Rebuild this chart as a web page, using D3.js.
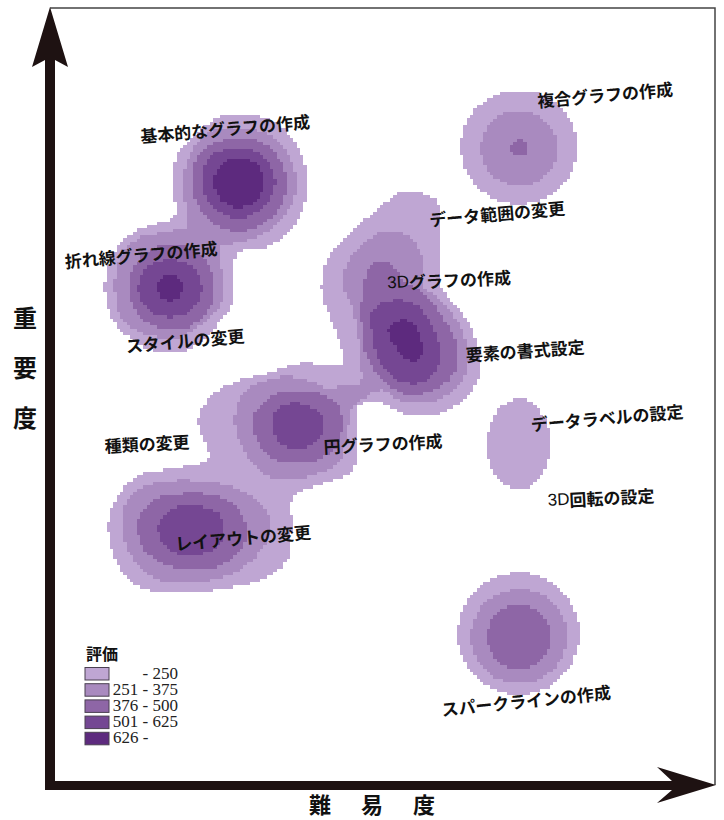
<!doctype html>
<html>
<head>
<meta charset="utf-8"/>
<title>難易度と重要度</title>
<script src="https://d3js.org/d3.v7.min.js"></script>
<style>
html,body{margin:0;padding:0;background:#fff;}
svg{display:block;}
.jp{font-family:"Noto Sans CJK JP",sans-serif;font-weight:700;fill:#111;}
.num{font-family:"Liberation Serif",serif;font-size:17px;fill:#222;}
.narrow{font-family:"Liberation Sans Narrow","Liberation Sans",sans-serif;font-weight:400;}
</style>
</head>
<body>
<script>
// chart values: x = 難易度, y = 重要度
var legendTitle = "評価";
var legendLabels = ["- 250", "251 - 375", "376 - 500", "501 - 625", "626 -"];
var bandColors = ["#bfa6d3", "#a98abf", "#8e66a6", "#744793", "#5d2a7e"];

var topicNames = ["基本的なグラフの作成", "複合グラフの作成", "データ範囲の変更", "折れ線グラフの作成", "3Dグラフの作成",
  "スタイルの変更", "要素の書式設定", "データラベルの設定", "種類の変更", "円グラフの作成",
  "3D回転の設定", "レイアウトの変更", "スパークラインの作成"];
var topicX = [175, 555, 447, 91, 399, 135, 475, 557, 97, 333, 551, 193, 476];
var topicY = [657, 691, 572, 531, 506, 445, 435, 368, 342, 342, 288, 248, 85];
var topicTilt = [-5, -5, -5, -5, -3, -5, -4, -5, -3, -3, -3, -5, -6];

// band outlines: [band, [[x, y], ...]]
var bandOutlines = [
  [0, [[170,668],[190,669],[212,668],[232,658],[248,637],[256,615],[257,597],[252,573],[240,555],[220,540],[190,533],[183,523],[183,500],[183,482],[173,468],[160,452],[137,435],[110,433],[83,445],[63,465],[55,495],[60,525],[77,548],[100,560],[123,567],[125,585],[122,602],[128,632],[147,652]]],
  [1, [[190,658],[225,647],[247,605],[240,578],[220,555],[190,543],[170,538],[173,508],[172,485],[153,462],[127,448],[100,450],[73,465],[65,495],[70,528],[90,548],[113,553],[137,560],[135,582],[135,615],[147,642],[163,655]]],
  [2, [[190,648],[220,638],[237,605],[230,578],[207,558],[180,555],[153,572],[142,602],[150,632],[167,643]]],
  [3, [[190,638],[212,630],[225,605],[217,582],[190,567],[163,578],[152,602],[160,628]]],
  [0, [[350,593],[370,593],[388,582],[390,545],[390,502],[400,485],[417,465],[428,438],[430,412],[417,388],[393,373],[360,370],[327,383],[308,378],[308,348],[303,315],[283,305],[250,293],[242,285],[242,258],[237,225],[217,208],[177,197],[137,193],[100,195],[73,212],[58,258],[67,288],[90,310],[127,317],[157,325],[158,335],[148,362],[160,388],[183,402],[220,413],[253,422],[293,420],[293,428],[287,452],[272,492],[277,525],[300,552],[323,572],[343,588]]],
  [1, [[340,555],[363,545],[373,525],[372,502],[390,485],[407,465],[417,438],[417,415],[400,392],[373,382],[350,385],[332,395],[315,388],[302,377],[297,350],[290,325],[263,310],[223,307],[202,322],[185,360],[193,392],[227,408],[250,407],[277,398],[295,400],[310,402],[310,428],[303,475],[292,502],[297,522],[317,545]]],
  [2, [[333,525],[343,518],[357,502],[373,492],[393,468],[407,438],[405,415],[390,398],[360,390],[337,402],[317,428],[312,458],[312,488],[318,515]]],
  [3, [[343,485],[363,482],[377,468],[390,435],[388,418],[373,403],[353,403],[333,418],[323,448],[323,475]]],
  [4, [[355,465],[367,457],[372,440],[370,427],[360,425],[348,435],[339,448],[340,460]]],
  [2, [[247,395],[283,385],[293,362],[283,335],[257,323],[227,325],[207,345],[203,368],[220,388]]],
  [3, [[247,382],[273,368],[273,352],[253,337],[233,340],[222,358],[227,375]]],
  [1, [[140,305],[110,303],[83,292],[72,265],[78,235],[103,208],[143,203],[183,212],[213,238],[220,265],[207,285],[177,300]]],
  [2, [[140,292],[103,285],[87,262],[95,235],[123,218],[163,217],[187,232],[197,252],[187,278],[163,290]]],
  [3, [[140,280],[117,273],[108,255],[120,235],[143,230],[167,238],[175,258],[167,273]]]
];
// round spots: [band, centre x, centre y, radius x, radius y]
var bandSpots = [
  [4, 189, 603, 25, 25],
  [2, 122, 498, 43, 43], [3, 120, 497, 32, 29], [4, 120, 497, 12.5, 13],
  [0, 469, 638, 58, 57], [1, 469, 637, 38, 38], [2, 469, 637, 8.5, 8.5],
  [0, 468.5, 341, 31.5, 45],
  [0, 468.5, 151.5, 61, 61], [1, 469, 149, 48, 47], [2, 469, 148.5, 32, 32]
];

var width = 724, height = 820;
var svg = d3.select("body").append("svg").attr("width", width).attr("height", height);

var x = d3.scaleLinear().domain([0, 665]).range([50, 715]);
var y = d3.scaleLinear().domain([0, 777]).range([785, 8]);

var defs = svg.append("defs");
defs.append("filter").attr("id", "soft").append("feGaussianBlur").attr("stdDeviation", 0.45);

// raster cells, same coarse steps as the source map
var cell = 10 / 3;
var outlinePath = d3.line().x(function(d){ return x(d[0]); }).y(function(d){ return y(d[1]); })
  .curve(d3.curveCatmullRomClosed.alpha(0.5));
var ctx = document.createElement("canvas").getContext("2d");
var outlines = bandOutlines.map(function(o){ return {band: o[0], path: new Path2D(outlinePath(o[1]))}; });

function bandAt(ux, uy) {
  var best = -1, px = x(ux), py = y(uy);
  outlines.forEach(function(o){
    if (o.band > best && ctx.isPointInPath(o.path, px, py)) best = o.band;
  });
  bandSpots.forEach(function(s){
    var dx = (ux - s[1]) / s[3], dy = (uy - s[2]) / s[4];
    if (s[0] > best && dx * dx + dy * dy <= 1) best = s[0];
  });
  return best;
}

var runs = [];
d3.range(0, 777, cell).forEach(function(uy){
  var start = 0, cur = -1;
  d3.range(0, 665 + cell, cell).forEach(function(ux){
    var b = bandAt(ux + cell / 2, uy + cell / 2);
    if (b !== cur) {
      if (cur >= 0) runs.push({band: cur, x0: start, x1: ux, y0: uy, y1: uy + cell});
      start = ux; cur = b;
    }
  });
});

svg.append("g").attr("filter", "url(#soft)")
  .selectAll("rect").data(runs).enter().append("rect")
  .attr("x", function(d){ return x(d.x0); })
  .attr("y", function(d){ return y(d.y1); })
  .attr("width", function(d){ return x(d.x1) - x(d.x0); })
  .attr("height", function(d){ return y(d.y0) - y(d.y1) + 0.4; })
  .attr("fill", function(d){ return bandColors[d.band]; })
  .attr("shape-rendering", "crispEdges");

// frame
svg.append("path")
  .attr("d", "M" + x(0) + "," + y(777) + "H" + x(665) + "V" + y(0))
  .attr("fill", "none").attr("stroke", "#444").attr("stroke-width", 1.5);

// axes with arrow heads
var axisColor = "#1e1212";
svg.append("rect").attr("x", 45).attr("y", 50).attr("width", 10).attr("height", 740).attr("fill", axisColor);
svg.append("rect").attr("x", 45).attr("y", 781).attr("width", 640).attr("height", 9).attr("fill", axisColor);
svg.append("path").attr("d", "M50,7L68,67L55,60H45L32,67Z").attr("fill", axisColor);
svg.append("path").attr("d", "M716,785L657,803L672,790V781L657,767Z").attr("fill", axisColor);

// topic labels, the 3D prefix is set narrow like the source
var labels = svg.append("g").selectAll("text").data(topicNames).enter().append("text")
  .attr("class", "jp")
  .attr("font-size", 17)
  .attr("text-anchor", "middle")
  .attr("dominant-baseline", "central")
  .attr("transform", function(d, i){ return "translate(" + x(topicX[i]) + "," + y(topicY[i]) + ") rotate(" + topicTilt[i] + ")"; });
labels.each(function(d){
  var t = d3.select(this);
  if (d.indexOf("3D") === 0) {
    t.append("tspan").attr("class", "narrow").text("3D");
    t.append("tspan").text(d.slice(2));
  } else {
    t.text(d);
  }
});

// axis titles
var yTitle = ["重", "要", "度"], xTitle = ["難", "易", "度"];
svg.append("g").selectAll("text").data(yTitle).enter().append("text")
  .attr("class", "jp").attr("font-size", 24).attr("text-anchor", "middle")
  .attr("x", 25).attr("y", function(d, i){ return 327 + i * 50; })
  .text(function(d){ return d; });
svg.append("g").selectAll("text").data(xTitle).enter().append("text")
  .attr("class", "jp").attr("font-size", 22).attr("text-anchor", "middle")
  .attr("x", function(d, i){ return 320 + i * 52; }).attr("y", 813)
  .text(function(d){ return d; });

// legend
svg.append("text").attr("class", "jp").attr("font-size", 16).attr("x", 86).attr("y", 660).text(legendTitle);
var row = d3.scaleLinear().domain([0, 1]).range([667.5, 683.7]);
var legend = svg.append("g").selectAll("g").data(legendLabels).enter().append("g")
  .attr("transform", function(d, i){ return "translate(85," + row(i) + ")"; });
legend.append("rect").attr("width", 24).attr("height", 12.5)
  .attr("fill", function(d, i){ return bandColors[i]; })
  .attr("stroke", "#4a4050").attr("stroke-width", 1);
legend.append("text").attr("class", "num")
  .attr("x", function(d, i){ return i < 4 ? 93 : 28; })
  .attr("text-anchor", function(d, i){ return i < 4 ? "end" : "start"; })
  .attr("y", 11)
  .text(function(d){ return d; });
</script>
</body>
</html>
